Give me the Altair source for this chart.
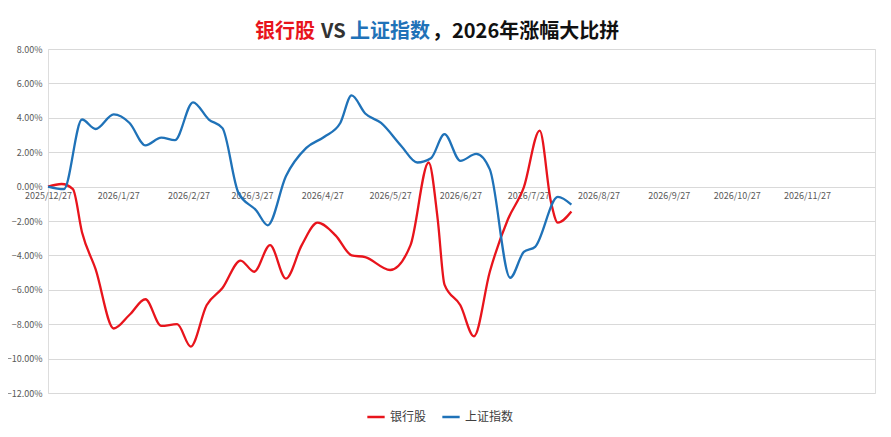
import pandas as pd
import altair as alt

start = pd.Timestamp("2025-12-27")

bank_days = [0, 6, 11, 15, 21, 29, 36, 43, 50, 57, 63, 70, 77, 85, 91, 98, 105, 112,
             119, 127, 134, 140, 151, 160, 168, 172, 175, 182, 188, 195, 203, 210, 217, 222, 225, 231]
bank_vals = [0, 0.15, -0.15, -2.65, -4.8, -8.25, -7.45, -6.55, -8.1, -8.0, -9.3, -6.9, -5.9, -4.3,
             -4.95, -3.4, -5.35, -3.4, -2.1, -2.85, -4.0, -4.1, -4.85, -3.4, 1.4, -1.9, -5.7, -6.9,
             -8.7, -4.95, -1.9, -0.05, 3.25, -0.9, -2.1, -1.45]

sh_days = [0, 7, 15, 21, 29, 36, 43, 50, 56, 64, 71, 77, 84, 92, 97, 105, 114, 122, 129, 134,
           140, 147, 156, 163, 169, 175, 182, 189, 195, 204, 210, 215, 225, 231]
sh_vals = [0, -0.15, 3.9, 3.35, 4.2, 3.7, 2.4, 2.85, 2.7, 4.9, 3.9, 3.4, -0.35, -1.4, -2.25, 0.6,
           2.25, 2.9, 3.7, 5.3, 4.25, 3.7, 2.35, 1.4, 1.65, 3.05, 1.5, 1.9, 1.0, -5.3, -3.8, -3.5,
           -0.6, -1.05]

series_names = ["银行股", "上证指数"]
series_colors = ["#e8141c", "#1f72b8"]
tick_dates = ["2025-12-27"] + [f"2026-{m:02d}-27" for m in range(1, 12)]

rows = []
for name, days, vals in [("银行股", bank_days, bank_vals), ("上证指数", sh_days, sh_vals)]:
    for d, v in zip(days, vals):
        rows.append({"date": start + pd.Timedelta(days=d), "value": v / 100, "series": name})
df = pd.DataFrame(rows)

font = "Noto Sans CJK SC"

lines = alt.Chart(df).mark_line(interpolate="monotone", strokeWidth=2.3).encode(
    x=alt.X("date:T",
            scale=alt.Scale(domain=["2025-12-27", "2026-12-27"]),
            axis=alt.Axis(title=None, values=tick_dates, format="%Y/%-m/%-d", grid=False,
                          domain=False, ticks=False, offset=-206, labelFontSize=9,
                          labelAlign="center", labelFlush=False, labelOverlap=False,
                          labelColor="#595959", labelFont=font, labelPadding=4)),
    y=alt.Y("value:Q",
            scale=alt.Scale(domain=[-0.12, 0.08], nice=False),
            axis=alt.Axis(title=None, values=[i / 100 for i in range(-12, 9, 2)], format=".2%",
                          domain=False, ticks=False, gridColor="#d9d9d9", labelFontSize=9,
                          labelColor="#595959", labelFont=font, labelPadding=6)),
    color=alt.Color("series:N",
                    scale=alt.Scale(domain=series_names, range=series_colors),
                    legend=alt.Legend(title=None, orient="none", legendX=318, legendY=358,
                                      direction="horizontal", symbolType="stroke",
                                      symbolStrokeWidth=2.5, symbolSize=300, labelFontSize=12,
                                      labelFont=font, labelColor="#404040")),
    order=alt.Order("date:T"),
)

title_parts = [("银行股", 207, "#e8141c"), ("VS", 273, "#333333"),
               ("上证指数", 302, "#1f72b8"), ("，2026年涨幅大比拼", 384, "#111111")]
title_layers = [
    alt.Chart(pd.DataFrame({"t": [t]})).mark_text(
        align="left", baseline="middle", fontSize=20, fontWeight="bold", font=font, color=c
    ).encode(text="t:N", x=alt.value(x), y=alt.value(-17))
    for t, x, c in title_parts
]

chart = alt.layer(lines, *title_layers).properties(
    width=827, height=344,
    autosize=alt.AutoSizeParams(type="none"),
    padding={"left": 40, "top": 41, "right": 8, "bottom": 44},
).configure_view(stroke=None).configure(background="white")

chart.save("out.html", embed_options={"renderer": "svg", "actions": False})
